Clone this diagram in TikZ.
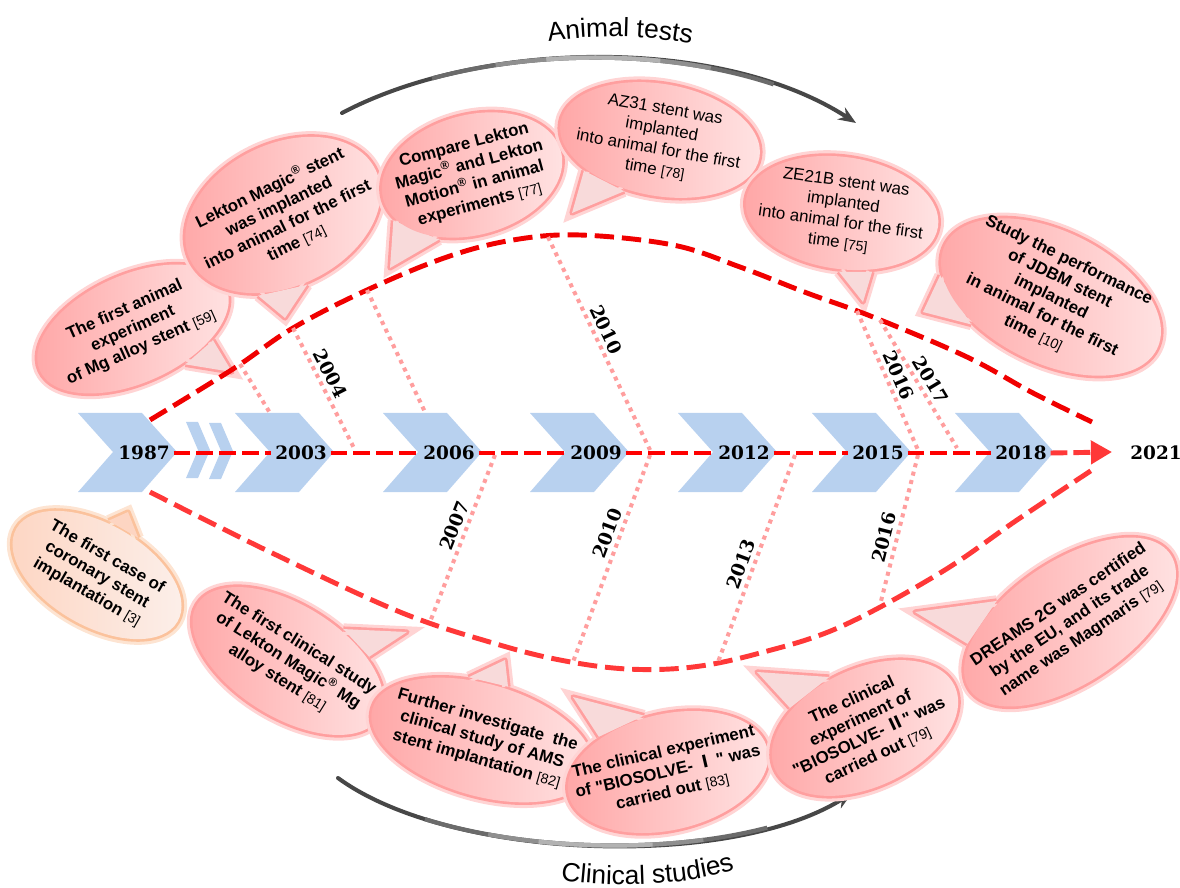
\documentclass[tikz,border=0pt]{standalone}
\usepackage{fontspec}
\setmainfont{Liberation Sans}
\newfontfamily\qfont{Liberation Sans}[Ligatures=TeXOff]
\newfontfamily\yearfont{DejaVu Serif}
\newfontfamily\cjk{Noto Sans CJK SC}
\usetikzlibrary{shapes.geometric,arrows.meta,decorations.text}

\definecolor{chevblue}{HTML}{B8D1EF}
\definecolor{dotpink}{HTML}{FF9E9E}
\definecolor{bubdark}{HTML}{FFA6A6}
\definecolor{bublight}{HTML}{FFE4E4}
\definecolor{glowpink}{HTML}{FF9F9F}
\definecolor{taillight}{HTML}{F8DADA}
\definecolor{orgdark}{HTML}{FDD5C2}
\definecolor{orglight}{HTML}{FCF0EB}
\definecolor{orgglow}{HTML}{FBC29C}

\newcommand{\rf}[1]{{\mdseries\fontsize{8}{9}\selectfont[#1]}}
\newcommand{\dq}{{\qfont"}}
% bubble: name, centre, angle, width, height, tail angles, tip, text
\newcommand{\bubble}[9]{%
  \node[bubshape, bubglow, rotate=#3, minimum width=#4*0.02cm, minimum height=#5*0.02cm] (#1) at #2 {};
  \draw[bubglow] (#1.#6) -- #8 -- (#1.#7);
  \fill[tailfill] (#1.#6) -- #8 -- (#1.#7) -- cycle;
  \node[bubshape, bubfill, rotate=#3, minimum width=#4*0.02cm, minimum height=#5*0.02cm] (#1f) at #2 {};
  \node[bubtext, rotate=#3] (#1t) at #2 {#9};
}

\begin{document}
\begin{tikzpicture}[x=0.02cm, y=-0.02cm]
  \tikzset{
    yearlbl/.style={font=\yearfont\bfseries\fontsize{10.5}{12}\selectfont, inner sep=2pt},
    midline/.style={draw=red, line width=2.8pt, dash pattern=on 9.6pt off 3.4pt},
    upcurve/.style={draw=red!94!black, line width=2.8pt, dash pattern=on 11pt off 4.5pt},
    lowcurve/.style={draw=red!78, line width=2.8pt, dash pattern=on 11pt off 4.5pt},
    dotline/.style={draw=dotpink, line width=2.3pt, dash pattern=on 2.3pt off 2.6pt},
    bubshape/.style={ellipse, inner sep=0pt},
    bubglow/.style={draw=glowpink, line width=3pt, line join=round,
      preaction={draw=glowpink!45, line width=6.5pt}},
    bubfill/.style={left color=bubdark, right color=bublight, draw=none},
    tailfill/.style={fill=taillight},
    bubtext/.style={font=\fontsize{9.6}{11.6}\selectfont\bfseries, align=center, inner sep=0pt},
    grayarc/.style={draw=black!72, line width=2.3pt, line cap=round},
    tone1/.style={draw=black!58, line width=2.4pt, dash pattern=on 0pt off 55pt on 197pt off 400pt},
    tone2/.style={draw=black!44, line width=2.4pt, dash pattern=on 0pt off 92pt on 123pt off 400pt},
    tone3/.style={draw=black!30, line width=2.4pt, dash pattern=on 0pt off 121pt on 65pt off 400pt}
  }
  \useasboundingbox (0,0) rectangle (1180,888);

  % Grey arrows with titles
  \draw[grayarc, -{Stealth[length=10pt,width=8pt]}] (342,113) .. controls (480,40) and (720,35) .. (856,123);
  \foreach \tn in {tone1,tone2,tone3}
    \draw[\tn] (342,113) .. controls (480,40) and (720,35) .. (856,123);
  \path[decorate, decoration={text along path, text align=center, text format delimiters={|}{|},
    text={|\fontsize{15}{15}\selectfont|Animal tests}}] (535,44) .. controls (585,34) and (650,34) .. (705,47);
  \draw[grayarc, -{Stealth[length=10pt,width=8pt]}] (338,778) .. controls (450,860) and (730,870) .. (852,793);
  \foreach \tn in {tone1,tone2,tone3}
    \draw[\tn] (338,778) .. controls (450,860) and (730,870) .. (852,793);
  \path[decorate, decoration={text along path, text align=center, text format delimiters={|}{|},
    text={|\fontsize{15}{15}\selectfont|Clinical studies}}] (550,878) .. controls (600,888) and (690,888) .. (745,866);

  % Animal tests bubbles
  \bubble{anim59}{(133,329)}{24}{204}{108}{-58}{-32}{(232,372)}{The first animal\\experiment\\of Mg alloy stent \rf{59}}
  \bubble{anim74}{(283,215)}{26}{206}{142}{-133}{-97}{(285,318)}{Lekton Magic\textsuperscript{®} stent\\was implanted\\into animal for the first\\time \rf{74}}
  \bubble{anim77}{(472,175)}{15}{184}{120}{-165}{-132}{(390,268)}{Compare Lekton\\Magic\textsuperscript{®} and Lekton\\Motion\textsuperscript{®} in animal\\experiments \rf{77}}
  \begin{scope}[bubtext/.append style={font=\fontsize{9.6}{11.6}\selectfont\mdseries}]
    \bubble{anim78}{(660,140)}{-10}{202}{112}{-148}{-115}{(572,213)}{AZ31 stent was\\implanted\\into animal for the first\\time \rf{78}}
    \bubble{anim75}{(842,213)}{-8}{194}{112}{-85}{-55}{(863,302)}{ZE21B stent was\\implanted\\into animal for the first\\time \rf{75}}
  \end{scope}
  \bubble{anim10}{(1051,297)}{-26}{236}{132}{-165}{-135}{(923,312)}{Study the performance\\of JDBM stent\\implanted\\in animal for the first\\time \rf{10}}

  % Clinical studies bubbles
  \begin{scope}[bubglow/.style={draw=orgglow, line width=3pt, line join=round, preaction={draw=orgglow!45, line width=6.5pt}},
      bubfill/.style={left color=orgdark, right color=orglight, draw=none}, tailfill/.style={fill=orgdark}]
    \bubble{clin3}{(97,575)}{-30}{186}{102}{72}{108}{(128,512)}{The first case of\\coronary stent\\implantation \rf{3}}
  \end{scope}
  \bubble{clin81}{(288,661)}{-32}{214}{112}{35}{62}{(407,632)}{The first clinical study\\of Lekton Magic\textsuperscript{®} Mg\\alloy stent \rf{81}}
  \bubble{clin82}{(482,740)}{-16}{228}{112}{80}{118}{(505,660)}{Further investigate\ \ the\\clinical study of AMS\\stent implantation \rf{82}}
  \bubble{clin83}{(668,772)}{13}{204}{116}{100}{140}{(573,697)}{The clinical experiment\\of \dq BIOSOLVE- {\cjk Ⅰ}\,\dq\ was\\carried out \rf{83}}
  \bubble{clin79a}{(865,728)}{25}{198}{118}{100}{140}{(757,672)}{The clinical\\experiment of\\\dq BIOSOLVE- {\cjk Ⅱ}\dq\ was\\carried out \rf{79}}
  \bubble{clin79b}{(1070,622)}{34}{242}{122}{130}{158}{(915,612)}{DREAMS 2G was certified\\by the EU, and its trade\\name was Magmaris \rf{79}}

  % Dashed envelope
  \draw[upcurve] plot[smooth, tension=0.6] coordinates {(150,420) (233,369) (293,328) (367,290) (447,257) (513,240)
    (580,235) (673,245) (740,267) (807,293) (873,317) (967,357) (1033,393) (1092,422)};
  \draw[lowcurve] plot[smooth, tension=0.6] coordinates {(150,492) (270,552) (400,612) (493,643) (560,660) (627,669)
    (693,667) (760,653) (840,627) (940,573) (1017,520) (1092,470)};

  % Dotted year links
  \coordinate (ua2003) at (240,364); \coordinate (ma2003) at (270,413);
  \coordinate (ua2004) at (293,328); \coordinate (ma2004) at (355,450);
  \coordinate (ua2006) at (367,290); \coordinate (ma2006) at (425,412);
  \coordinate (ua2010) at (548,237); \coordinate (ma2010) at (650,450);
  \coordinate (ua2016) at (857,311); \coordinate (ma2016) at (918,450);
  \coordinate (ua2017) at (880,320); \coordinate (ma2017) at (957,448);
  \coordinate (mb2007) at (495,455); \coordinate (lb2007) at (430,622);
  \coordinate (mb2010) at (650,455); \coordinate (lb2010) at (573,662);
  \coordinate (mb2013) at (795,455); \coordinate (lb2013) at (718,662);
  \coordinate (mb2016) at (918,455); \coordinate (lb2016) at (880,605);
  \draw[dotline] (ua2003) -- (ma2003);
  \draw[dotline] (ua2006) -- (ma2006);
  \draw[dotline] (ua2004) -- (ma2004) node[yearlbl, sloped, above, pos=.42] (ta2004) {2004};
  \draw[dotline] (ua2010) -- (ma2010) node[yearlbl, sloped, above, pos=.46] (ta2010) {2010};
  \draw[dotline] (ua2016) -- (ma2016) node[yearlbl, sloped, above, pos=.5] (ta2016) {2016};
  \draw[dotline] (ua2017) -- (ma2017) node[yearlbl, sloped, above, pos=.52] (ta2017) {2017};
  \draw[dotline] (mb2007) -- (lb2007) node[yearlbl, sloped, above, pos=.45] (tb2007) {2007};
  \draw[dotline] (mb2010) -- (lb2010) node[yearlbl, sloped, above, pos=.4] (tb2010) {2010};
  \draw[dotline] (mb2013) -- (lb2013) node[yearlbl, sloped, above, pos=.55] (tb2013) {2013};
  \draw[dotline] (mb2016) -- (lb2016) node[yearlbl, sloped, above, pos=.57] (tb2016) {2016};

  % Timeline chevrons
  \fill[chevblue] (186,422) -- ++(12,0) -- ++(12,28) -- ++(-12,28) -- ++(-12,0) -- ++(12,-28) -- cycle;
  \fill[chevblue] (209,423) -- ++(12,0) -- ++(12,28) -- ++(-12,28) -- ++(-12,0) -- ++(12,-28) -- cycle;
  \foreach \cx/\yr in {78/1987,235/2003,383/2006,530/2009,678/2012,812/2015,955/2018}{
    \fill[chevblue] (\cx,413) -- ++(64,0) -- ++(35,39) -- ++(-35,40) -- ++(-64,0) -- ++(35,-40) -- cycle;
    \node[yearlbl] (y\yr) at (\cx+66,453) {\yr};
  }
  \coordinate (end2021) at (1112,452);
  \node[yearlbl] (y2021) at (1156,453) {2021};
  \foreach \a/\b in {1987/2003,2003/2006,2006/2009,2009/2012,2012/2015,2015/2018}
    \draw[midline] (y\a.east) -- (y\b.west);
  \draw[midline, draw=red!78, -{Triangle[length=12pt,width=13pt]}] (y2018.east) -- (end2021);
\end{tikzpicture}
\end{document}
